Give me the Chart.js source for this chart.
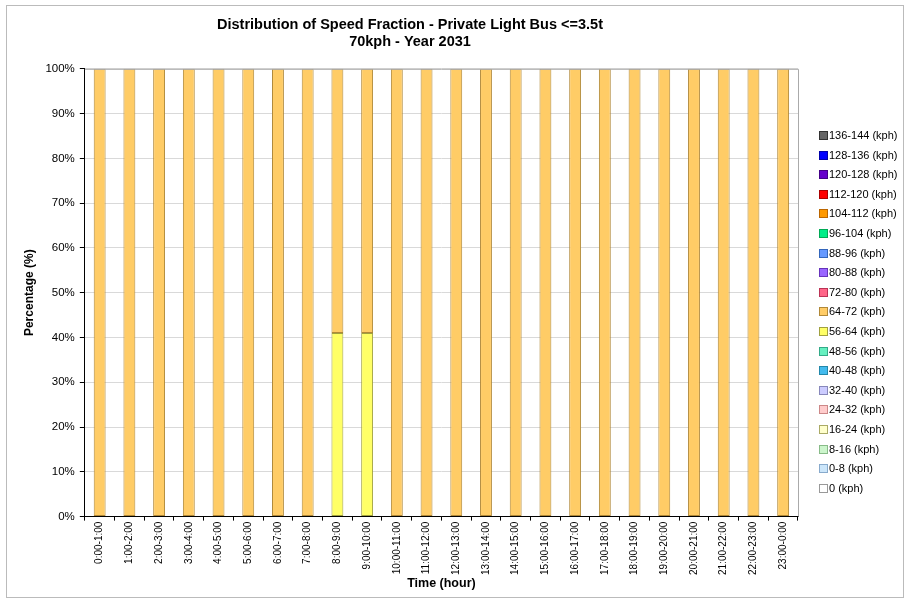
<!DOCTYPE html>
<html>
<head>
<meta charset="utf-8">
<script src="https://cdn.jsdelivr.net/npm/chart.js@4/dist/chart.umd.min.js"></script>
<style>
  html, body { margin: 0; padding: 0; background: #fff; }
  #wrap { width: 910px; height: 603px; }
</style>
</head>
<body>
<div id="wrap"><canvas id="speedChart" width="910" height="603"></canvas></div>
<script>
// hour bands along the x axis
var hours = ['0:00-1:00', '1:00-2:00', '2:00-3:00', '3:00-4:00', '4:00-5:00', '5:00-6:00',
    '6:00-7:00', '7:00-8:00', '8:00-9:00', '9:00-10:00', '10:00-11:00', '11:00-12:00',
    '12:00-13:00', '13:00-14:00', '14:00-15:00', '15:00-16:00', '16:00-17:00', '17:00-18:00',
    '18:00-19:00', '19:00-20:00', '20:00-21:00', '21:00-22:00', '22:00-23:00', '23:00-0:00'];

// speed bins, bottom of the stack first
var speedBins = ['0 (kph)', '0-8 (kph)', '8-16 (kph)', '16-24 (kph)', '24-32 (kph)', '32-40 (kph)',
    '40-48 (kph)', '48-56 (kph)', '56-64 (kph)', '64-72 (kph)', '72-80 (kph)', '80-88 (kph)',
    '88-96 (kph)', '96-104 (kph)', '104-112 (kph)', '112-120 (kph)', '120-128 (kph)',
    '128-136 (kph)', '136-144 (kph)'];

var binFill = ['#ffffff', '#cce6fa', '#ccf5cc', '#ffffcc', '#ffcccc', '#ccccff',
    '#44bbee', '#66f0c0', '#ffff66', '#ffcc66', '#ff6688', '#9966ff',
    '#6699ff', '#00ee88', '#ff9900', '#ff0000', '#6600cc', '#0000ff', '#666666'];
var binBorder = ['#999999', '#88aacc', '#88bb88', '#aaaa66', '#cc8888', '#8888bb',
    '#2288aa', '#33aa88', '#a0a040', '#b08838', '#bb3355', '#6633bb',
    '#3366bb', '#00aa55', '#bb6600', '#aa0000', '#440088', '#0000aa', '#333333'];

// percentages per hour for the bins that are not empty (null = nothing in that hour)
var bin56to64 = [null, null, null, null, null, null, null, null, 41, 41, null, null,
    null, null, null, null, null, null, null, null, null, null, null, null];
var bin64to72 = [100, 100, 100, 100, 100, 100, 100, 100, 59, 59, 100, 100, 100, 100, 100, 100,
    100, 100, 100, 100, 100, 100, 100, 100];
var empty = hours.map(function () { return null; });

var yTicks = [0, 10, 20, 30, 40, 50, 60, 70, 80, 90, 100];

var datasets = speedBins.map(function (name, i) {
    var values = empty;
    if (name === '56-64 (kph)') values = bin56to64;
    if (name === '64-72 (kph)') values = bin64to72;
    return {
        label: name,
        data: values,
        backgroundColor: binFill[i],
        borderColor: binBorder[i],
        borderWidth: 1,
        borderSkipped: false,
        categoryPercentage: 1.0,
        barPercentage: 0.4
    };
});

// right-hand legend and frame, drawn by hand so they sit where the original has them
var sideLegend = {
    id: 'sideLegend',
    afterDraw: function (chart) {
        var ctx = chart.ctx;
        var area = chart.chartArea;
        ctx.save();
        // outer frame
        ctx.strokeStyle = '#bbbbbb';
        ctx.lineWidth = 1;
        ctx.strokeRect(6.5, 5.5, 897, 592);
        // plot frame (top and right)
        ctx.strokeStyle = '#aaaaaa';
        ctx.beginPath();
        ctx.moveTo(area.left, area.top + 0.5);
        ctx.lineTo(Math.round(area.right) + 0.5, area.top + 0.5);
        ctx.lineTo(Math.round(area.right) + 0.5, area.bottom);
        ctx.stroke();
        // legend, top item is the fastest bin
        ctx.font = '11px "Liberation Sans", Arial, sans-serif';
        ctx.textBaseline = 'middle';
        var n = speedBins.length;
        for (var k = 0; k < n; k++) {
            var i = n - 1 - k;
            var y = Math.round(136 + k * 19.6);
            ctx.fillStyle = binFill[i];
            ctx.fillRect(820, y - 4, 7, 7);
            ctx.strokeStyle = binBorder[i];
            ctx.strokeRect(819.5, y - 4.5, 8, 8);
            ctx.fillStyle = '#000000';
            ctx.fillText(speedBins[i], 829, y);
        }
        ctx.restore();
    }
};

Chart.defaults.font.family = '"Liberation Sans", Arial, sans-serif';
Chart.defaults.color = '#000000';

new Chart(document.getElementById('speedChart').getContext('2d'), {
    type: 'bar',
    data: { labels: hours, datasets: datasets },
    options: {
        responsive: false,
        animation: false,
        layout: { padding: { left: 22, right: 112, top: 0, bottom: 12 } },
        plugins: {
            legend: { display: false },
            tooltip: { enabled: false },
            title: {
                display: true,
                text: ['Distribution of Speed Fraction - Private Light Bus <=3.5t', '70kph - Year 2031'],
                font: { size: 14.5, weight: 'bold' },
                color: '#000000',
                padding: { top: 16, bottom: 18 },
                lineHeight: 1.25
            }
        },
        scales: {
            x: {
                stacked: true,
                offset: true,
                grid: {
                    display: true,
                    offset: true,
                    drawOnChartArea: false,
                    drawTicks: true,
                    tickLength: 4,
                    color: '#000000'
                },
                border: { display: true, color: '#000000', width: 1 },
                ticks: {
                    font: { size: 10 },
                    color: '#000000',
                    maxRotation: 90,
                    minRotation: 90,
                    autoSkip: false,
                    padding: 1
                },
                title: {
                    display: true,
                    text: 'Time (hour)',
                    font: { size: 12.5, weight: 'bold' },
                    padding: { top: 0, bottom: 0 }
                }
            },
            y: {
                stacked: true,
                min: 0,
                max: 100,
                afterBuildTicks: function (axis) {
                    axis.ticks = yTicks.map(function (v) { return { value: v }; });
                },
                grid: {
                    color: function (c) { return c.tick && c.tick.value === 0 ? '#000000' : '#d9d9d9'; },
                    tickLength: 5,
                    tickColor: '#000000'
                },
                border: { display: true, color: '#000000', width: 1 },
                ticks: {
                    font: { size: 11.5 },
                    color: '#000000',
                    padding: 5,
                    callback: function (v) { return v + '%'; }
                },
                title: {
                    display: true,
                    text: 'Percentage (%)',
                    font: { size: 12, weight: 'bold' },
                    padding: { top: 0, bottom: 4 }
                }
            }
        }
    },
    plugins: [sideLegend]
});
</script>
</body>
</html>
